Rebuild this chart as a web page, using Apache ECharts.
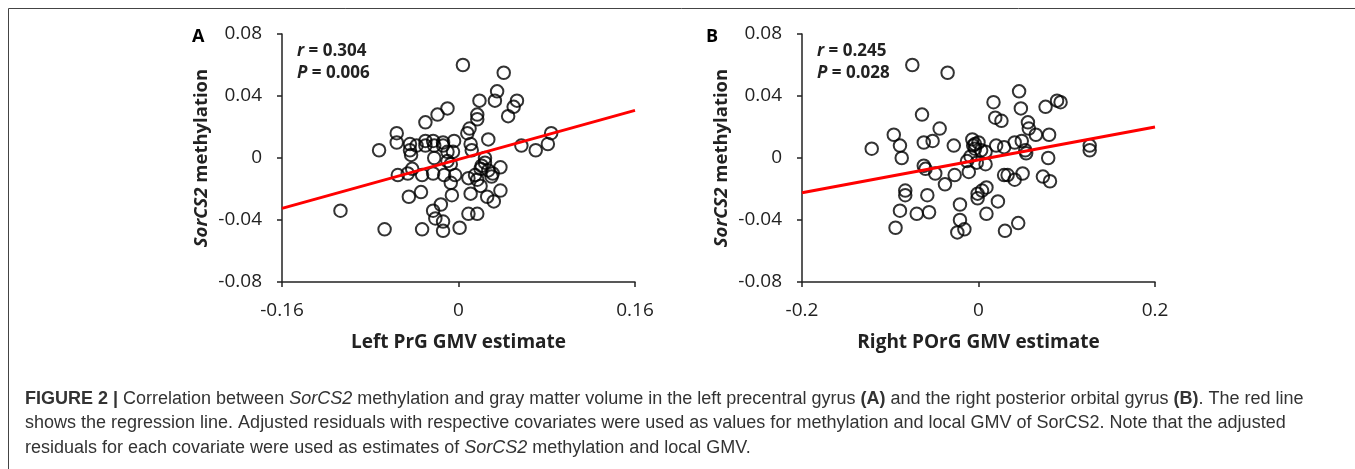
<!DOCTYPE html>
<html>
<head>
<meta charset="utf-8">
<script src="https://cdn.jsdelivr.net/npm/echarts@6/dist/echarts.min.js"></script>
<style>
  html, body { margin: 0; padding: 0; background: #fff; }
  #chart { width: 1355px; height: 469px; }
</style>
</head>
<body>
<div id="chart"></div>
<script>
// ==========================================================================
// Data: GMV estimate (x) vs SorCS2 methylation (y)
// ==========================================================================

// Panel A: left precentral gyrus
var prgGmv = [
    0.004, 0.041, 0.035, 0.033, 0.019, 0.053, 0.050, 0.045, -0.010, -0.019,
    -0.030, 0.017, 0.017, 0.010, 0.008, -0.056, -0.056, -0.072, 0.084, 0.081,
    0.070, 0.057, 0.027, -0.004, -0.023, -0.030, -0.044, -0.044, -0.038, -0.030,
    -0.014, -0.005, 0.011, 0.012, -0.043, -0.022, 0.024, 0.024, 0.021, 0.038,
    0.027, 0.031, 0.015, 0.009, 0.017, 0.020, -0.003, -0.013, -0.023, -0.033,
    -0.042, -0.046, -0.055, -0.007, -0.010, -0.007, 0.011, 0.026, 0.032, 0.038,
    -0.006, -0.034, -0.045, -0.107, -0.016, -0.023, -0.021, -0.014, -0.014, 0.001,
    0.009, 0.017, -0.067, -0.033, -0.014, -0.010, -0.022, 0.020, 0.030
];
var prgMethyl = [
    0.060, 0.055, 0.043, 0.037, 0.037, 0.037, 0.033, 0.027, 0.032, 0.028,
    0.023, 0.028, 0.025, 0.019, 0.016, 0.016, 0.010, 0.005, 0.016, 0.009,
    0.005, 0.008, 0.012, 0.011, 0.011, 0.011, 0.009, 0.005, 0.008, 0.008,
    0.008, 0.004, 0.009, 0.005, 0.002, 0.000, 0.000, -0.003, -0.005, -0.006,
    -0.008, -0.010, -0.011, -0.013, -0.014, -0.018, -0.011, -0.011, -0.010, -0.011,
    -0.007, -0.010, -0.011, -0.004, -0.002, -0.016, -0.023, -0.025, -0.028, -0.021,
    -0.024, -0.022, -0.025, -0.034, -0.030, -0.034, -0.039, -0.041, -0.047, -0.045,
    -0.036, -0.036, -0.046, -0.046, 0.010, 0.004, 0.008, -0.007, -0.012
];
var prgFitX = [-0.16, 0.16];
var prgFitY = [-0.0325, 0.0307];

// Panel B: right posterior orbital gyrus
var porgGmv = [
    -0.075, -0.035, 0.046, 0.017, 0.048, 0.076, 0.089, 0.093, -0.064, 0.019,
    0.026, 0.056, 0.057, -0.044, -0.096, -0.089, -0.121, -0.062, -0.052, -0.028,
    -0.007, -0.006, -0.004, 0.000, 0.008, 0.020, 0.029, 0.041, 0.049, 0.065,
    0.080, 0.126, 0.126, 0.053, -0.087, 0.079, -0.062, -0.060, -0.049, -0.038,
    -0.027, -0.011, -0.013, -0.002, 0.008, 0.029, 0.033, 0.041, 0.050, 0.073,
    0.081, 0.054, -0.083, -0.083, -0.058, -0.089, -0.070, -0.056, -0.094, -0.021,
    -0.021, -0.024, -0.016, -0.001, -0.001, 0.004, 0.009, 0.009, 0.022, 0.030,
    0.045, -0.004, 0.003, -0.009
];
var porgMethyl = [
    0.060, 0.055, 0.043, 0.036, 0.032, 0.033, 0.037, 0.036, 0.028, 0.026,
    0.024, 0.023, 0.019, 0.019, 0.015, 0.008, 0.006, 0.010, 0.011, 0.008,
    0.012, 0.008, 0.006, 0.010, 0.004, 0.008, 0.007, 0.010, 0.011, 0.015,
    0.015, 0.008, 0.005, 0.005, 0.000, 0.000, -0.005, -0.007, -0.010, -0.017,
    -0.011, -0.009, -0.002, -0.003, -0.004, -0.011, -0.011, -0.014, -0.010, -0.012,
    -0.015, 0.003, -0.021, -0.024, -0.024, -0.034, -0.036, -0.035, -0.045, -0.030,
    -0.040, -0.048, -0.046, -0.023, -0.026, -0.021, -0.019, -0.036, -0.028, -0.047,
    -0.042, 0.009, 0.005, 0.001
];
var porgFitX = [-0.2, 0.2];
var porgFitY = [-0.0224, 0.0200];

// Tick labels
var prgTicks = ['-0.16', '0', '0.16'];
var porgTicks = ['-0.2', '0', '0.2'];
var methylTicks = ['-0.08', '-0.04', '0', '0.04', '0.08'];

function zip(xs, ys) {
    return xs.map((x, i) => [x, ys[i]]);
}

var chartFont = 'Open Sans';
var captionFont = 'Liberation Sans';

var chart = echarts.init(document.getElementById('chart'));

function makeXAxis(gridIndex, min, max, ticks, name) {
    return {
        gridIndex: gridIndex,
        type: 'value',
        min: min,
        max: max,
        interval: max,
        name: name,
        nameLocation: 'middle',
        nameGap: 51,
        nameTextStyle: { fontFamily: chartFont, fontSize: 19, fontWeight: 'bold', color: '#222' },
        axisLine: { show: true, onZero: false, lineStyle: { color: '#222', width: 1.5 } },
        axisTick: { show: true, length: 5, lineStyle: { color: '#222', width: 1.5 } },
        axisLabel: {
            margin: 19,
            fontFamily: chartFont,
            fontSize: 19,
            color: '#222',
            formatter: function(v) {
                var i = Math.round((v - min) / max);
                return ticks[i];
            }
        },
        splitLine: { show: false }
    };
}

function makeYAxis(gridIndex) {
    return {
        gridIndex: gridIndex,
        type: 'value',
        min: -0.08,
        max: 0.08,
        interval: 0.04,
        name: '{i|SorCS2} methylation',
        nameLocation: 'middle',
        nameGap: 71,
        nameTextStyle: {
            fontFamily: chartFont, fontSize: 18.5, fontWeight: 'bold', color: '#222',
            rich: { i: { fontFamily: chartFont, fontSize: 18.5, fontWeight: 'bold', fontStyle: 'italic', color: '#222' } }
        },
        axisLine: { show: true, onZero: false, lineStyle: { color: '#222', width: 1.5 } },
        axisTick: { show: true, length: 5, lineStyle: { color: '#222', width: 1.5 } },
        axisLabel: {
            margin: 20,
            fontFamily: chartFont,
            fontSize: 19,
            color: '#222',
            formatter: function(v) {
                var i = Math.round((v + 0.08) / 0.04);
                return methylTicks[i];
            }
        },
        splitLine: { show: false }
    };
}

function scatterSeries(idx, data) {
    return {
        type: 'scatter',
        xAxisIndex: idx,
        yAxisIndex: idx,
        data: data,
        symbol: 'circle',
        symbolSize: 12.5,
        itemStyle: { color: 'rgba(255,255,255,0)', borderColor: '#000', borderWidth: 2 },
        z: 2
    };
}

function fitSeries(idx, xs, ys) {
    return {
        type: 'line',
        xAxisIndex: idx,
        yAxisIndex: idx,
        data: zip(xs, ys),
        symbol: 'none',
        lineStyle: { color: '#ff0000', width: 3 },
        z: 3,
        silent: true
    };
}

function statText(left, rVal, pVal) {
    var rich = { i: { fontFamily: chartFont, fontSize: 17, fontWeight: 'bold', fontStyle: 'italic', fill: '#222' } };
    return [
        {
            type: 'text', left: left, top: 43,
            style: { text: '{i|r} = ' + rVal, fontFamily: chartFont, fontSize: 17, fontWeight: 'bold', fill: '#222', rich: rich }
        },
        {
            type: 'text', left: left, top: 65,
            style: { text: '{i|P} = ' + pVal, fontFamily: chartFont, fontSize: 17, fontWeight: 'bold', fill: '#222', rich: rich }
        }
    ];
}

var captionRich = {
    b: { fontFamily: captionFont, fontSize: 18, fontWeight: 'bold', fill: '#333' },
    i: { fontFamily: captionFont, fontSize: 18, fontStyle: 'italic', fill: '#333' }
};
var captionLines = [
    '{b|FIGURE 2 | }Correlation between {i|SorCS2} methylation and gray matter volume in the left precentral gyrus {b|(A)} and the right posterior orbital gyrus {b|(B)}. The red line',
    'shows the regression line. Adjusted residuals with respective covariates were used as values for methylation and local GMV of SorCS2. Note that the adjusted',
    'residuals for each covariate were used as estimates of {i|SorCS2} methylation and local GMV.'
];

chart.setOption({
    backgroundColor: '#fff',
    animation: false,
    grid: [
        { left: 282, top: 34, width: 353, height: 248 },
        { left: 802, top: 34, width: 353, height: 248 }
    ],
    xAxis: [
        makeXAxis(0, -0.16, 0.16, prgTicks, 'Left PrG GMV estimate'),
        makeXAxis(1, -0.2, 0.2, porgTicks, 'Right POrG GMV estimate')
    ],
    yAxis: [makeYAxis(0), makeYAxis(1)],
    series: [
        scatterSeries(0, zip(prgGmv, prgMethyl)),
        fitSeries(0, prgFitX, prgFitY),
        scatterSeries(1, zip(porgGmv, porgMethyl)),
        fitSeries(1, porgFitX, porgFitY)
    ],
    graphic: [
        // figure frame (top and left edges)
        { type: 'line', shape: { x1: 8.5, y1: 8.5, x2: 1355, y2: 8.5 }, style: { stroke: '#444', lineWidth: 1 } },
        { type: 'line', shape: { x1: 8.5, y1: 8.5, x2: 8.5, y2: 469 }, style: { stroke: '#444', lineWidth: 1 } },
        // panel letters
        { type: 'text', left: 192, top: 28, style: { text: 'A', fontFamily: chartFont, fontSize: 18, fontWeight: 'bold', fill: '#000' } },
        { type: 'text', left: 706, top: 28, style: { text: 'B', fontFamily: chartFont, fontSize: 18, fontWeight: 'bold', fill: '#000' } }
    ]
        .concat(statText(297, '0.304', '0.006'))
        .concat(statText(817, '0.245', '0.028'))
        .concat(captionLines.map((line, i) => ({
            type: 'text',
            left: 25,
            top: 390 + i * 24.5,
            style: { text: line, fontFamily: captionFont, fontSize: 18, fill: '#333', rich: captionRich }
        })))
});
</script>
</body>
</html>
